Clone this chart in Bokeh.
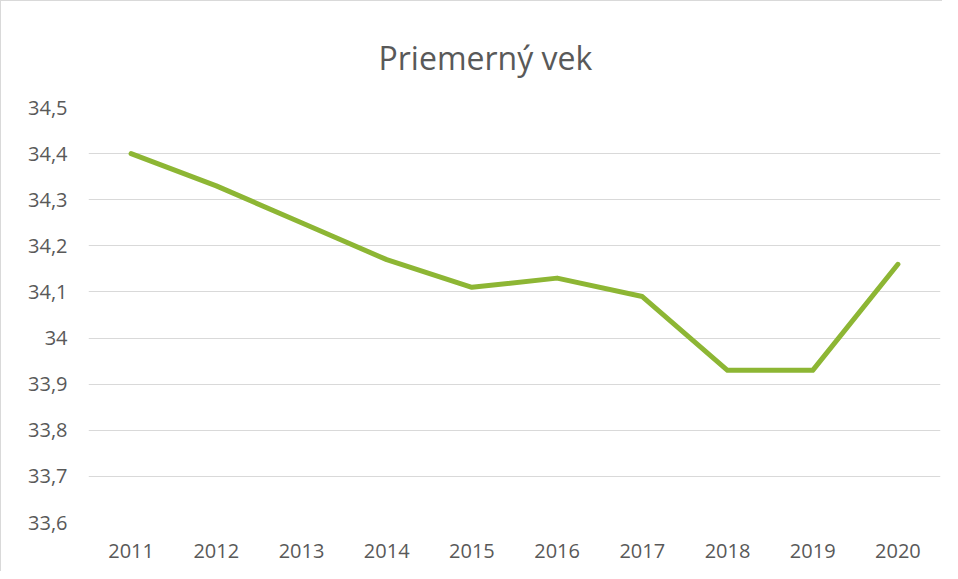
from bokeh.plotting import figure
from bokeh.models import CustomJSTickFormatter, FixedTicker, Range1d
from bokeh.embed import file_html
from bokeh.resources import INLINE

years = [2011, 2012, 2013, 2014, 2015, 2016, 2017, 2018, 2019, 2020]
avg_age = [34.40, 34.33, 34.25, 34.17, 34.11, 34.13, 34.09, 33.93, 33.93, 34.16]
y_ticks = [33.6, 33.7, 33.8, 33.9, 34.0, 34.1, 34.2, 34.3, 34.4, 34.5]

FONT = "Open Sans"
TXT = "#595959"

p = figure(width=942, height=571, output_backend="svg", toolbar_location=None,
           title="Priemerný vek",
           x_range=Range1d(years[0] - 0.5, years[-1] + 0.5),
           y_range=Range1d(33.6, 34.5),
           min_border_left=87, min_border_right=3, min_border_top=106, min_border_bottom=50)
p.styles = {"border-left": "1px solid #d9d9d9", "border-top": "1px solid #d9d9d9"}

p.title.align = "left"
p.title.offset = 290
p.title.text_font = FONT
p.title.text_font_style = "normal"
p.title.text_font_size = "32px"
p.title.text_color = TXT
p.title.standoff = 58

p.line(years, avg_age, line_color="#8DB634", line_width=5, line_join="round", line_cap="round")

p.outline_line_color = None
p.background_fill_color = "white"
p.border_fill_color = "white"

p.xgrid.grid_line_color = None
p.ygrid.grid_line_color = "#D9D9D9"
p.ygrid.grid_line_width = 1

p.xaxis.ticker = FixedTicker(ticks=years)
p.yaxis.ticker = FixedTicker(ticks=y_ticks)
p.yaxis.formatter = CustomJSTickFormatter(code="""
var s = tick.toFixed(1);
if (s.endsWith('.0')) { s = s.slice(0, -2); }
return s.replace('.', ',');
""")
for ax in (p.xaxis, p.yaxis):
    ax.axis_line_color = None
    ax.major_tick_line_color = None
    ax.minor_tick_line_color = None
    ax.major_label_text_font = FONT
    ax.major_label_text_font_size = "20px"
    ax.major_label_text_color = TXT
p.yaxis.major_label_standoff = 15
p.xaxis.major_label_standoff = 15

open("out.html", "w").write(file_html(p, INLINE))
